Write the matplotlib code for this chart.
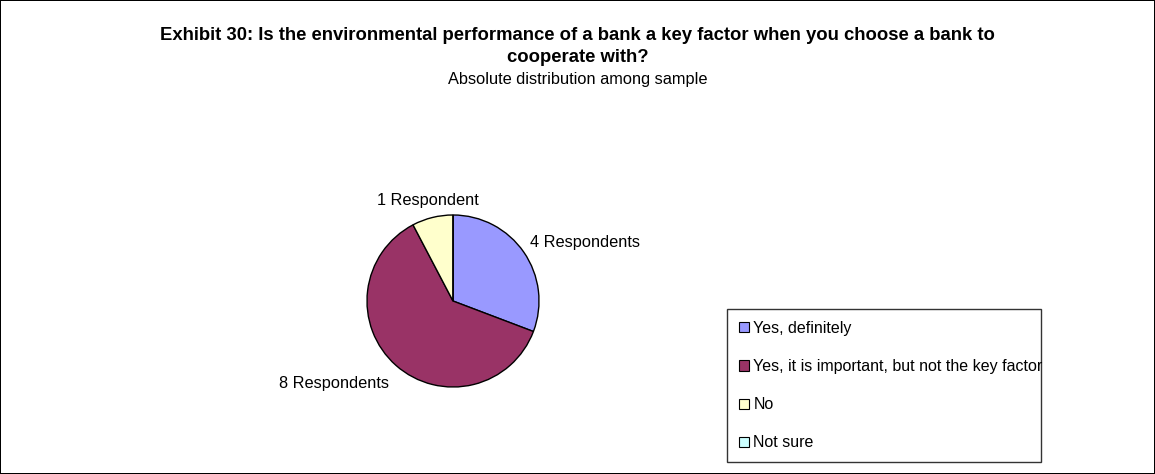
import matplotlib.pyplot as plt
import numpy as np

plt.rcParams['font.family'] = ['Liberation Sans', 'DejaVu Sans']

categories = ['Yes, definitely', 'Yes, it is important, but not the key factor', 'No', 'Not sure']
values = [4, 8, 1, 0]
slice_labels = ['4 Respondents', '8 Respondents', '1 Respondent', '']
colors = ['#9999FF', '#993366', '#FFFFCC', '#CCFFFF']

W, H = 1155, 474
fig = plt.figure(figsize=(W / 100, H / 100), dpi=100, linewidth=1.2, edgecolor='black')

# pie axes: center ~ (453, 301) px, radius ~86 px
cx, cy, r = 453, 301, 86
ax = fig.add_axes([(cx - r) / W, (H - cy - r) / H, 2 * r / W, 2 * r / H])
wedges, texts = ax.pie(values, colors=colors, startangle=90, counterclock=False,
                       labels=slice_labels, labeldistance=1.1,
                       wedgeprops=dict(edgecolor='black', linewidth=1),
                       textprops=dict(fontsize=11.8))
ax.set_xlim(-1, 1)
ax.set_ylim(-1, 1)
ax.set_aspect('equal')

# nudge labels roughly the way the original places them
texts[0].set_va('bottom')
texts[0].set_position((1.09 * np.cos(np.deg2rad((wedges[0].theta1 + wedges[0].theta2) / 2)),
                       1.05 * np.sin(np.deg2rad((wedges[0].theta1 + wedges[0].theta2) / 2))))
texts[1].set_va('top')
texts[1].set_position((1.12 * np.cos(np.deg2rad((wedges[1].theta1 + wedges[1].theta2) / 2)),
                       1.16 * np.sin(np.deg2rad((wedges[1].theta1 + wedges[1].theta2) / 2))))
w = wedges[2]
ang = np.deg2rad((w.theta1 + w.theta2) / 2)
texts[2].set_position((1.2 * np.cos(ang), 1.2 * np.sin(ang)))
texts[2].set_ha('center')
texts[2].set_va('center')

fig.text(0.5, 1 - 36 / H, 'Exhibit 30: Is the environmental performance of a bank a key factor when you choose a bank to',
         ha='center', va='center', fontsize=13.3, fontweight='bold')
fig.text(0.5, 1 - 58 / H, 'cooperate with?', ha='center', va='center', fontsize=13.3, fontweight='bold')
fig.text(0.5, 1 - 80 / H, 'Absolute distribution among sample', ha='center', va='center', fontsize=11.8)

leg = fig.legend(wedges, categories, loc='upper left',
                 bbox_to_anchor=(727 / W, 1 - 464 / H, (1041 - 727) / W, (464 - 309) / H),
                 mode='expand', fontsize=11.5, frameon=True, fancybox=False,
                 handlelength=0.6, handleheight=0.6, handletextpad=0.3,
                 labelspacing=1.45, borderpad=0.75, borderaxespad=0)
leg.get_frame().set_edgecolor('black')
leg.get_frame().set_linewidth(1)
for h in leg.legend_handles:
    h.set_edgecolor('black')
    h.set_linewidth(0.8)

fig.savefig('out.png', dpi=100, edgecolor=fig.get_edgecolor())
